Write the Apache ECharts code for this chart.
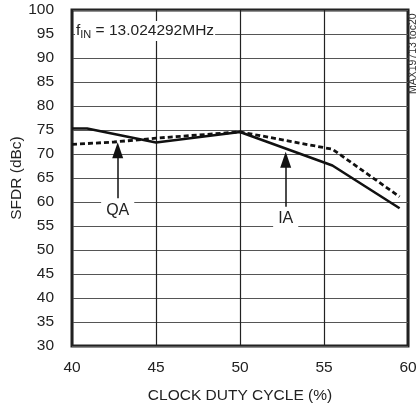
<!DOCTYPE html>
<html>
<head>
<meta charset="utf-8">
<script src="https://cdn.jsdelivr.net/npm/echarts@6/dist/echarts.min.js"></script>
<style>
html,body{margin:0;padding:0;background:#fff;}
#chart{width:420px;height:410px;}
</style>
</head>
<body>
<div id="chart"></div>
<script>
// Data
const iaData = [[40, 75.3], [40.9, 75.3], [45, 72.4], [50, 74.6], [55.5, 67.6], [59.5, 58.7]];
const qaData = [[40, 72.0], [42.5, 72.5], [45, 73.3], [50, 74.6], [55.5, 71.0], [59.5, 61.1]];
const xTicks = [40, 45, 50, 55, 60];
const yTicks = [30, 35, 40, 45, 50, 55, 60, 65, 70, 75, 80, 85, 90, 95, 100];
const qaArrow = { x: 42.72, from: 60.8, to: 70.8, labelY: 58.2 };
const iaArrow = { x: 52.72, from: 59.0, to: 68.8, labelY: 56.5 };

const FONT = '"Liberation Sans", Arial, sans-serif';
const chart = echarts.init(document.getElementById('chart'), null, { renderer: 'canvas' });

function arrow(a) {
  return {
    silent: true,
    symbol: ['none', 'triangle'],
    symbolSize: [11, 16],
    lineStyle: { color: '#111', width: 1.5, type: 'solid' },
    label: { show: false },
    data: [[{ coord: [a.x, a.from] }, { coord: [a.x, a.to] }]]
  };
}
function tag(a, text) {
  return {
    silent: true,
    symbol: 'rect',
    symbolSize: 0,
    label: {
      show: true, position: 'inside', formatter: text,
      color: '#222', fontFamily: FONT, fontSize: 16,
      backgroundColor: '#fff', padding: [1, 5]
    },
    data: [{ coord: [a.x, a.labelY] }]
  };
}

chart.setOption({
  animation: false,
  backgroundColor: '#fff',
  grid: { left: 72, right: 12, top: 10, bottom: 64, containLabel: false, outerBoundsMode: 'none', show: true, borderColor: '#222', borderWidth: 3, backgroundColor: 'transparent' },
  xAxis: {
    type: 'value', min: xTicks[0], max: xTicks[xTicks.length - 1], interval: 5,
    name: 'CLOCK DUTY CYCLE (%)', nameLocation: 'middle', nameGap: 42,
    nameTextStyle: { fontFamily: FONT, fontSize: 15.5, color: '#222' },
    axisLine: { show: false }, axisTick: { show: false },
    axisLabel: { margin: 14, fontFamily: FONT, fontSize: 15.5, color: '#222', showMinLabel: true, showMaxLabel: true },
    splitLine: { show: true, lineStyle: { color: '#222', width: 1.2 } }
  },
  yAxis: {
    type: 'value', min: yTicks[0], max: yTicks[yTicks.length - 1], interval: 5,
    name: 'SFDR (dBc)', nameLocation: 'middle', nameGap: 47, nameMoveOverlap: false,
    nameTextStyle: { fontFamily: FONT, fontSize: 15.5, color: '#222' },
    axisLine: { show: false }, axisTick: { show: false },
    axisLabel: { margin: 18, fontFamily: FONT, fontSize: 15.5, color: '#222' },
    splitLine: { show: true, lineStyle: { color: '#555', width: 1.2 } }
  },
  series: [
    {
      name: 'IA', type: 'line', data: iaData, showSymbol: false, symbol: 'none',
      lineStyle: { color: '#111', width: 2.6 },
      markLine: arrow(iaArrow), markPoint: tag(iaArrow, 'IA'), z: 3
    },
    {
      name: 'QA', type: 'line', data: qaData, showSymbol: false, symbol: 'none',
      lineStyle: { color: '#111', width: 2.8, type: [5, 3] },
      markLine: arrow(qaArrow), markPoint: tag(qaArrow, 'QA'), z: 3
    }
  ],
  graphic: [
    {
      type: 'text', left: 75, top: 21, z: 10,
      style: {
        text: '{a|f}{b|IN}{a| = 13.024292MHz}',
        backgroundColor: '#fff', padding: [1, 1],
        rich: {
          a: { fontFamily: FONT, fontSize: 15.5, fill: '#222', color: '#222' },
          b: { fontFamily: FONT, fontSize: 11, fill: '#222', color: '#222', verticalAlign: 'bottom', padding: [7, 0, 0, 0] }
        }
      }
    },
    {
      type: 'text', x: 408, y: 94, rotation: Math.PI / 2, z: 10,
      style: { text: 'MAX19713 toc20', fontFamily: FONT, fontSize: 10.5, fill: '#333' }
    }
  ]
});
</script>
</body>
</html>
